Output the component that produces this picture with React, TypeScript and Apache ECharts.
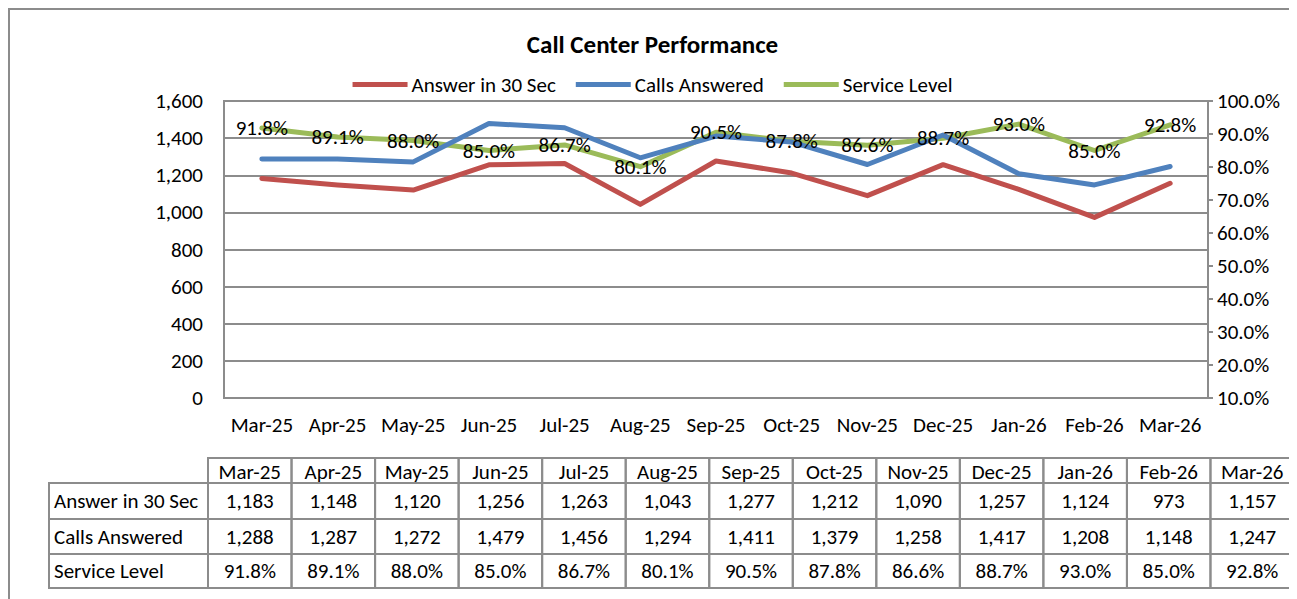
import React, { useEffect, useRef } from "react";
import * as echarts from "echarts";

const categories = ["Mar-25", "Apr-25", "May-25", "Jun-25", "Jul-25", "Aug-25", "Sep-25", "Oct-25", "Nov-25", "Dec-25", "Jan-26", "Feb-26", "Mar-26"];
const answer30 = [1183, 1148, 1120, 1256, 1263, 1043, 1277, 1212, 1090, 1257, 1124, 973, 1157];
const callsAnswered = [1288, 1287, 1272, 1479, 1456, 1294, 1411, 1379, 1258, 1417, 1208, 1148, 1247];
const serviceLevel = [91.8, 89.1, 88.0, 85.0, 86.7, 80.1, 90.5, 87.8, 86.6, 88.7, 93.0, 85.0, 92.8];
const seriesNames = ["Answer in 30 Sec", "Calls Answered", "Service Level"];

const FONT = "Carlito, Calibri, Lato, sans-serif";
const FS = 21;
const fmtNum = (v: number) => v.toLocaleString("en-US");
const fmtPct = (v: number) => v.toFixed(1) + "%";

export default function App() {
  const ref = useRef<HTMLDivElement>(null);
  useEffect(() => {
    if (!ref.current) return;
    const chart = echarts.init(ref.current, undefined, { renderer: "svg" });

    const W = 1289;
    const gridLeft = 216, gridTop = 93, gridW = 984, gridH = 297;
    const tblLeft = 41, colStart = 200, colEnd = 1286;
    const colW = (colEnd - colStart) / categories.length;
    const rowYs = [450, 475, 511, 546, 580];
    const border = "#8c8c8c";

    const graphics: any[] = [];
    graphics.push({ type: "rect", shape: { x: 1, y: 1, width: W - 4, height: 700 }, style: { fill: "none", stroke: border, lineWidth: 2 }, silent: true });
    graphics.push({ type: "rect", shape: { x: gridLeft, y: gridTop, width: gridW, height: gridH }, style: { fill: "none", stroke: border, lineWidth: 2 }, silent: true, z: 1 });

    categories.forEach((c, i) => {
      const x = colStart + i * colW;
      graphics.push({ type: "rect", shape: { x, y: rowYs[0], width: colW, height: rowYs[1] - rowYs[0] }, style: { fill: "none", stroke: border, lineWidth: 2 } });
      graphics.push({ type: "text", x: x + colW / 2, y: (rowYs[0] + rowYs[1]) / 2 + 1, style: { text: c, font: `${FS}px ${FONT}`, fill: "#000", align: "center", verticalAlign: "middle" } });
    });
    const rows = [
      answer30.map(fmtNum),
      callsAnswered.map(fmtNum),
      serviceLevel.map(fmtPct),
    ];
    rows.forEach((vals, r) => {
      const y0 = rowYs[r + 1], y1 = rowYs[r + 2];
      graphics.push({ type: "rect", shape: { x: tblLeft, y: y0, width: colStart - tblLeft, height: y1 - y0 }, style: { fill: "none", stroke: border, lineWidth: 2 } });
      graphics.push({ type: "text", x: tblLeft + 5, y: (y0 + y1) / 2, style: { text: seriesNames[r], font: `${FS}px ${FONT}`, fill: "#000", align: "left", verticalAlign: "middle" } });
      vals.forEach((v, i) => {
        const x = colStart + i * colW;
        graphics.push({ type: "rect", shape: { x, y: y0, width: colW, height: y1 - y0 }, style: { fill: "none", stroke: border, lineWidth: 2 } });
        graphics.push({ type: "text", x: x + colW / 2, y: (y0 + y1) / 2, style: { text: v, font: `${FS}px ${FONT}`, fill: "#000", align: "center", verticalAlign: "middle" } });
      });
    });

    const lineCommon = {
      type: "line",
      symbol: "circle",
      symbolSize: 1,
      smooth: false,
    };

    chart.setOption({
      animation: false,
      textStyle: { fontFamily: FONT },
      title: {
        text: "Call Center Performance",
        left: "center",
        top: 19,
        textStyle: { fontSize: 25, fontWeight: "bold", color: "#000", fontFamily: FONT },
      },
      legend: {
        data: seriesNames,
        top: 61,
        left: "center",
        icon: "rect",
        itemWidth: 55,
        itemHeight: 5,
        itemGap: 20,
        textStyle: { fontSize: FS, color: "#000", fontFamily: FONT, padding: [0, 0, 0, -1] },
      },
      grid: { left: gridLeft, top: gridTop, width: gridW, height: gridH, containLabel: false },
      xAxis: {
        type: "category",
        data: categories,
        boundaryGap: true,
        axisLine: { show: true, lineStyle: { color: border, width: 2 } },
        axisTick: { show: false },
        axisLabel: { fontSize: FS, color: "#000", margin: 16, interval: 0, fontFamily: FONT },
        splitLine: { show: false },
      },
      yAxis: [
        {
          type: "value",
          min: 0,
          max: 1600,
          interval: 200,
          axisLine: { show: false },
          axisTick: { show: false },
          axisLabel: { fontSize: FS, color: "#000", margin: 21, formatter: (v: number) => fmtNum(v), fontFamily: FONT },
          splitLine: { show: true, lineStyle: { color: border, width: 2 } },
        },
        {
          type: "value",
          min: 10,
          max: 100,
          interval: 10,
          position: "right",
          axisLine: { show: true, lineStyle: { color: border, width: 2 } },
          axisTick: { show: true, inside: false, length: 5, lineStyle: { color: border, width: 2 } },
          axisLabel: { fontSize: FS, color: "#000", margin: 9, formatter: (v: number) => fmtPct(v), fontFamily: FONT },
          splitLine: { show: false },
        },
      ],
      graphic: graphics,
      series: [
        {
          ...lineCommon,
          name: seriesNames[0],
          data: answer30,
          yAxisIndex: 0,
          z: 3,
          color: "#C0504D",
          lineStyle: { color: "#C0504D", width: 5, cap: "round", join: "round" },
          itemStyle: { color: "#C0504D" },
        },
        {
          ...lineCommon,
          name: seriesNames[1],
          data: callsAnswered,
          yAxisIndex: 0,
          z: 3,
          color: "#4F81BD",
          lineStyle: { color: "#4F81BD", width: 5, cap: "round", join: "round" },
          itemStyle: { color: "#4F81BD" },
        },
        {
          ...lineCommon,
          name: seriesNames[2],
          data: serviceLevel,
          yAxisIndex: 1,
          z: 2,
          color: "#9BBB59",
          lineStyle: { color: "#9BBB59", width: 5, cap: "round", join: "round" },
          itemStyle: { color: "#9BBB59" },
        },
        {
          type: "line",
          name: "Service Level labels",
          data: serviceLevel,
          yAxisIndex: 1,
          z: 5,
          symbol: "circle",
          symbolSize: 1,
          lineStyle: { width: 0, color: "rgba(0,0,0,0)" },
          itemStyle: { color: "rgba(0,0,0,0)", borderWidth: 0 },
          silent: true,
          label: {
            show: true,
            position: "inside",
            formatter: (p: any) => fmtPct(p.value),
            fontSize: FS,
            color: "#000",
            opacity: 1,
            fontFamily: FONT,
          },
          labelLayout: { hideOverlap: false },
        },
      ],
    });
    return () => chart.dispose();
  }, []);
  return <div ref={ref} style={{ width: 1289, height: 591 }} />;
}
